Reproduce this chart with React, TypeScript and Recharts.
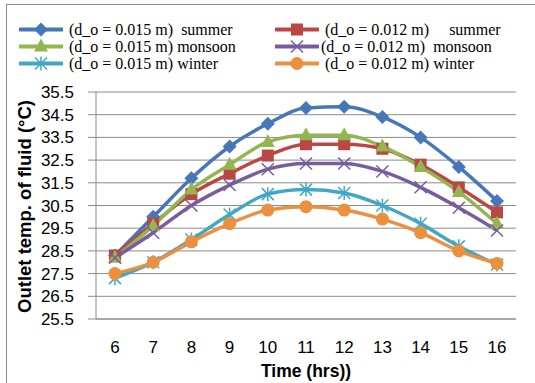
import { LineChart, Line, XAxis, YAxis, CartesianGrid } from "recharts";

// hour of day
const hours = [6, 7, 8, 9, 10, 11, 12, 13, 14, 15, 16];

// outlet fluid temperature (°C) per season and tube outer diameter
const summer015 = [28.3, 30.0, 31.7, 33.1, 34.1, 34.8, 34.85, 34.4, 33.5, 32.2, 30.7];
const summer012 = [28.3, 29.7, 31.0, 31.9, 32.7, 33.2, 33.2, 33.0, 32.3, 31.3, 30.2];
const monsoon015 = [28.2, 29.6, 31.2, 32.3, 33.3, 33.6, 33.6, 33.1, 32.2, 31.1, 29.7];
const monsoon012 = [28.2, 29.3, 30.5, 31.4, 32.1, 32.35, 32.35, 32.0, 31.3, 30.4, 29.4];
const winter015 = [27.3, 28.0, 29.0, 30.1, 31.0, 31.2, 31.05, 30.5, 29.7, 28.7, 27.9];
const winter012 = [27.5, 28.0, 28.9, 29.7, 30.3, 30.45, 30.3, 29.9, 29.3, 28.5, 27.95];

const yTicks = [25.5, 26.5, 27.5, 28.5, 29.5, 30.5, 31.5, 32.5, 33.5, 34.5, 35.5];

type Shape = "diamond" | "square" | "triangle" | "cross" | "star" | "circle";

const series: { key: string; values: number[]; color: string; shape: Shape; name: string }[] = [
  { key: "s15", values: summer015, color: "#4677b8", shape: "diamond", name: "(d_o = 0.015 m)  summer" },
  { key: "s12", values: summer012, color: "#bb4744", shape: "square", name: "(d_o = 0.012 m)     summer" },
  { key: "m15", values: monsoon015, color: "#93b650", shape: "triangle", name: "(d_o = 0.015 m) monsoon" },
  { key: "m12", values: monsoon012, color: "#795ca0", shape: "cross", name: "(d_o = 0.012 m)  monsoon" },
  { key: "w15", values: winter015, color: "#41a8c4", shape: "star", name: "(d_o = 0.015 m) winter" },
  { key: "w12", values: winter012, color: "#ea903f", shape: "circle", name: "(d_o = 0.012 m) winter" },
];

const data = hours.map((h, i) => {
  const row: Record<string, number> = { hour: h };
  series.forEach((s) => (row[s.key] = s.values[i]));
  return row;
});

const gridColor = "#8a8a8a";
const sans = "Liberation Sans, Arial, sans-serif";

function Marker({ shape, cx, cy, color }: { shape: Shape; cx: number; cy: number; color: string }) {
  switch (shape) {
    case "diamond":
      return <path d={`M${cx},${cy - 7}L${cx + 7},${cy}L${cx},${cy + 7}L${cx - 7},${cy}Z`} fill={color} />;
    case "square":
      return <rect x={cx - 6} y={cy - 6} width={12} height={12} fill={color} />;
    case "triangle":
      return <path d={`M${cx},${cy - 8}L${cx + 7},${cy + 5}L${cx - 7},${cy + 5}Z`} fill={color} />;
    case "cross":
      return (
        <path
          d={`M${cx - 6},${cy - 6}L${cx + 6},${cy + 6}M${cx + 6},${cy - 6}L${cx - 6},${cy + 6}`}
          stroke={color}
          strokeWidth={1.5}
          fill="none"
        />
      );
    case "star":
      return (
        <path
          d={`M${cx - 6},${cy - 6}L${cx + 6},${cy + 6}M${cx + 6},${cy - 6}L${cx - 6},${cy + 6}M${cx},${cy - 7}L${cx},${cy + 7}`}
          stroke={color}
          strokeWidth={1.5}
          fill="none"
        />
      );
    default:
      return <circle cx={cx} cy={cy} r={6.5} fill={color} />;
  }
}

function YTitle({ viewBox }: any) {
  const x = 24.5;
  const y = viewBox ? viewBox.y + viewBox.height / 2 + 1 : 206;
  return (
    <text
      x={x}
      y={y}
      transform={`rotate(-90, ${x}, ${y})`}
      textAnchor="middle"
      dominantBaseline="central"
      fontFamily={sans}
      fontWeight="bold"
      fontSize={18.5}
      fill="#000"
    >
      Outlet temp. of fluid (°C)
    </text>
  );
}

function LegendBox() {
  return (
    <div
      style={{
        position: "absolute",
        left: 19,
        top: 21,
        display: "grid",
        gridTemplateColumns: "256px 230px",
        fontFamily: "Liberation Serif, 'Times New Roman', serif",
        fontSize: 16,
        lineHeight: "17px",
        whiteSpace: "pre",
      }}
    >
      {series.map((s, i) => (
        <div key={s.key} style={{ display: "flex", alignItems: "center", height: 17 }}>
          <svg width={44} height={17} style={{ flex: "none" }}>
            <line x1={1} y1={8.5} x2={43} y2={8.5} stroke={s.color} strokeWidth={4} strokeLinecap="round" />
            <Marker shape={s.shape} cx={22} cy={8.5} color={s.color} />
          </svg>
          <span style={{ marginLeft: i === 3 ? 2 : 6 }}>{s.name}</span>
        </div>
      ))}
    </div>
  );
}

export default function App() {
  return (
    <div
      style={{
        position: "absolute",
        left: 0,
        top: 0,
        width: 535,
        height: 383,
        overflow: "hidden",
        background: "#fff",
      }}
    >
      <div
        style={{
          position: "absolute",
          left: 6,
          top: 4,
          width: 600,
          height: 500,
          border: "1px solid #8c8c8c",
        }}
      />
      <LegendBox />
      <LineChart
        width={535}
        height={383}
        data={data}
        margin={{ top: 92, right: 19, bottom: 0, left: 0 }}
        style={{ position: "absolute", left: 0, top: 0 }}
      >
        <CartesianGrid vertical={false} stroke={gridColor} strokeWidth={1} />
        <XAxis
          dataKey="hour"
          type="category"
          padding={{ left: 19, right: 19 }}
          height={64}
          axisLine={{ stroke: gridColor }}
          tickLine={false}
          tickSize={0}
          tickMargin={22}
          tick={{ fill: "#000", fontSize: 17, fontFamily: sans }}
          interval={0}
          label={{
            value: "Time (hrs))",
            position: "insideBottom",
            offset: 6,
            fill: "#000",
            fontSize: 17.5,
            fontWeight: "bold",
            fontFamily: sans,
          }}
        />
        <YAxis
          width={96}
          domain={[25.5, 35.5]}
          ticks={yTicks}
          interval={0}
          axisLine={{ stroke: gridColor }}
          tickLine={{ stroke: gridColor }}
          tickSize={8}
          tickMargin={14}
          tick={{ fill: "#000", fontSize: 17, fontFamily: sans }}
          tickFormatter={(v: number) => v.toFixed(1)}
          label={<YTitle />}
        />
        {series.map((s) => (
          <Line
            key={s.key}
            dataKey={s.key}
            type="monotone"
            stroke={s.color}
            strokeWidth={3.5}
            isAnimationActive={false}
            activeDot={false}
            dot={(p: any) => <Marker key={`${s.key}-${p.index}`} shape={s.shape} cx={p.cx} cy={p.cy} color={s.color} />}
          />
        ))}
      </LineChart>
    </div>
  );
}
